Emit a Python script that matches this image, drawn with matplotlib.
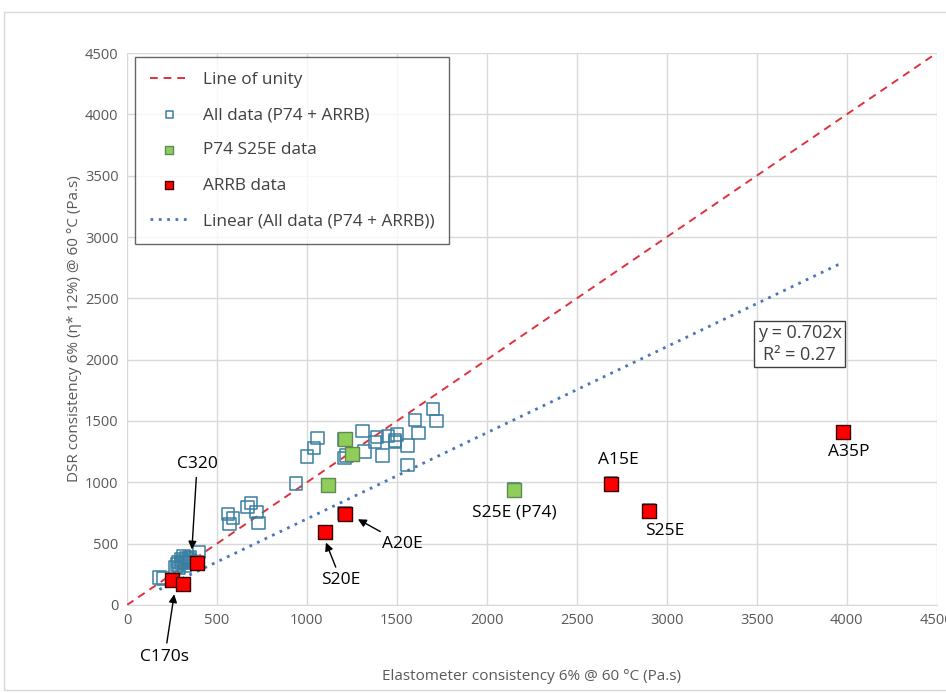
import matplotlib.pyplot as plt
from matplotlib.patches import Rectangle

plt.rcParams['font.family'] = ['Open Sans', 'DejaVu Sans']

# P74 S25E samples (green)
p74_x = [1210, 1250, 1120, 2150]
p74_y = [1350, 1230, 980, 940]

# ARRB samples (red)
arrb_x = [250, 310, 390, 1100, 1210, 2690, 2900, 3980]
arrb_y = [205, 170, 345, 595, 745, 990, 770, 1410]

# remaining samples that only appear in the combined set
other_x = [1700, 1720, 1600, 1620, 1560, 1560, 1500, 1490, 1490, 1450, 1420,
           1390, 1380, 1310, 1320, 1220, 1210, 1060, 1040, 1000, 940,
           560, 590, 570, 690, 670, 720, 730,
           180, 200, 400,
           270, 280, 290, 300, 310, 320, 330, 340, 350, 300, 285, 325, 345, 315, 355]
other_y = [1600, 1500, 1510, 1400, 1300, 1140, 1390, 1340, 1330, 1380, 1220,
           1370, 1330, 1420, 1250, 1220, 1200, 1360, 1280, 1210, 990,
           740, 710, 660, 830, 800, 760, 670,
           225, 215, 430,
           310, 330, 300, 340, 360, 320, 380, 350, 390, 370, 350, 340, 370, 395, 360]

all_x = other_x + p74_x + arrb_x
all_y = other_y + p74_y + arrb_y

slope = 0.702
r2 = 0.27

fig = plt.figure(figsize=(9.46, 6.93), dpi=100)
ax = fig.add_axes([0.1342, 0.127, 0.856, 0.7965])

fig.patches.append(Rectangle((4 / 946, 3 / 693), 1.0, 1 - 15 / 693, transform=fig.transFigure,
                             fill=False, edgecolor='#d9d9d9', linewidth=1))

ax.plot([0, 4500], [0, 4500], color='#e0323c', linestyle=(0, (4, 3)), linewidth=1.4,
        label='Line of unity', zorder=2)
ax.scatter(all_x, all_y, marker='s', s=80, facecolors='none', edgecolors='#3a7fa0',
           linewidths=1.1, label='All data (P74 + ARRB)', zorder=3)
ax.scatter(p74_x, p74_y, marker='s', s=95, facecolors='#8fce5a', edgecolors='#5d8a55',
           linewidths=1.0, label='P74 S25E data', zorder=4)
ax.scatter(arrb_x, arrb_y, marker='s', s=95, facecolors='#ff0000', edgecolors='#3a0000',
           linewidths=1.0, label='ARRB data', zorder=4)
xmin, xmax = min(all_x), max(all_x)
ax.plot([xmin, xmax], [slope * xmin, slope * xmax], color='#4a75b8', linestyle=(0, (1, 2)),
        linewidth=2, label='Linear (All data (P74 + ARRB))', zorder=2)

ax.set_xlim(0, 4500)
ax.set_ylim(0, 4500)
ax.set_xticks(range(0, 4501, 500))
ax.set_yticks(range(0, 4501, 500))
ax.grid(True, color='#d9d9d9', linewidth=1)
ax.set_axisbelow(True)
for s in ax.spines.values():
    s.set_visible(False)
ax.spines['bottom'].set_visible(True)
ax.spines['bottom'].set_color('#d9d9d9')
ax.tick_params(length=0, labelsize=10.5, labelcolor='#595959', pad=6)

ax.set_xlabel('Elastometer consistency 6% @ 60 °C (Pa.s)', fontsize=11, color='#595959', labelpad=29)
ax.set_ylabel('DSR consistency 6% (η* 12%) @ 60 °C (Pa.s)', fontsize=11, color='#595959', labelpad=2)

leg = ax.legend(loc='upper left', bbox_to_anchor=(0.0099, 0.9928), borderaxespad=0, fontsize=12.4,
                frameon=True, fancybox=False, edgecolor='#404040', labelspacing=1.12, borderpad=0.85,
                handlelength=2.3, markerscale=0.6, labelcolor='#404040')
leg.get_frame().set_linewidth(1)

ax.text(3739, 2127, f'y = {slope}x\nR² = {r2}', ha='center', va='center', fontsize=13,
        color='#404040', linespacing=1.25,
        bbox=dict(boxstyle='square,pad=0.2', facecolor='white', edgecolor='#404040', linewidth=1))

arrow = dict(arrowstyle='-|>', color='black', linewidth=1, mutation_scale=12)
ax.annotate('C320', xy=(360, 430), xytext=(390, 1150), ha='center', va='center',
            fontsize=12.5, arrowprops=arrow)
ax.annotate('C170s', xy=(265, 110), xytext=(210, -420), ha='center', va='center',
            fontsize=12.5, arrowprops=arrow, annotation_clip=False)
ax.annotate('S20E', xy=(1100, 530), xytext=(1190, 200), ha='center', va='center',
            fontsize=12.5, arrowprops=arrow)
ax.annotate('A20E', xy=(1270, 710), xytext=(1530, 500), ha='center', va='center',
            fontsize=12.5, arrowprops=arrow)
ax.text(2730, 1185, 'A15E', ha='center', va='center', fontsize=12.5)
ax.text(2990, 605, 'S25E', ha='center', va='center', fontsize=12.5)
ax.text(4010, 1250, 'A35P', ha='center', va='center', fontsize=12.5)
ax.text(2150, 750, 'S25E (P74)', ha='center', va='center', fontsize=12.5)

fig.savefig('out.png', dpi=100)
